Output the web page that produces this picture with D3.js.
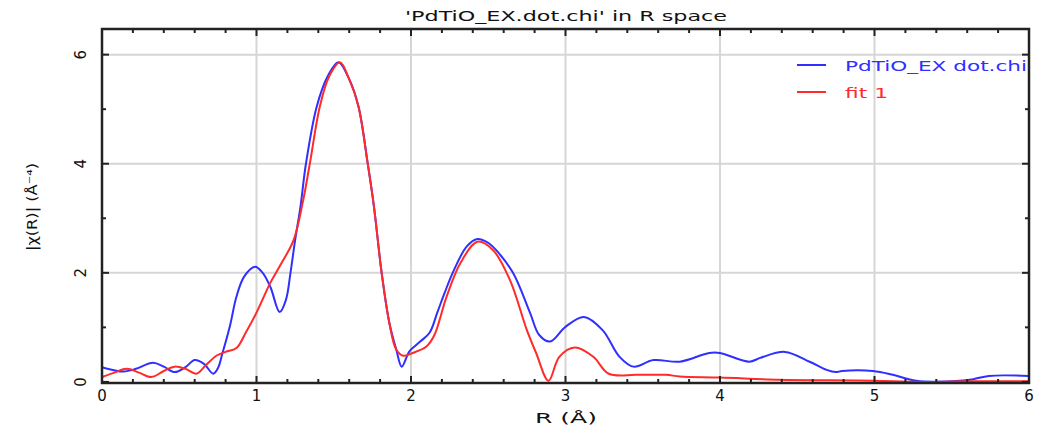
<!DOCTYPE html>
<html>
<head>
<meta charset="utf-8">
<script src="https://cdn.jsdelivr.net/npm/d3@7"></script>
<style>
  body { margin: 0; background: #fff; }
  text { font-family: "DejaVu Sans", sans-serif; fill: #111; }
</style>
</head>
<body>
<svg></svg>
<script>
const width = 1037
const height = 428
let marge = {top: 29, bottom: 45, left: 102, right: 8}

// data |chi(R)|
const dataR   = [0, 0.07, 0.14, 0.22, 0.33, 0.40, 0.47, 0.54, 0.60, 0.66, 0.72, 0.75, 0.78, 0.83, 0.87, 0.92, 0.99, 1.04, 1.09, 1.15, 1.19, 1.22, 1.25, 1.285, 1.32, 1.39, 1.46, 1.53, 1.60, 1.66, 1.72, 1.76, 1.81, 1.86, 1.905, 1.94, 1.99, 2.06, 2.12, 2.17, 2.22, 2.27, 2.36, 2.43, 2.50, 2.55, 2.66, 2.77, 2.83, 2.90, 3.00, 3.12, 3.24, 3.35, 3.44, 3.57, 3.74, 3.93, 4.00, 4.19, 4.26, 4.42, 4.58, 4.69, 4.75, 4.79, 4.99, 5.12, 5.27, 5.55, 5.64, 5.74, 6.00]
const dataChi = [0.27, 0.22, 0.19, 0.24, 0.35, 0.28, 0.18, 0.27, 0.40, 0.33, 0.15, 0.25, 0.53, 1.05, 1.56, 1.93, 2.11, 2.00, 1.74, 1.28, 1.50, 2.00, 2.60, 3.22, 4.00, 5.05, 5.60, 5.86, 5.55, 5.05, 4.00, 3.22, 2.00, 1.08, 0.59, 0.28, 0.56, 0.74, 0.90, 1.27, 1.65, 2.00, 2.48, 2.62, 2.55, 2.42, 2.00, 1.27, 0.86, 0.74, 1.01, 1.19, 0.95, 0.46, 0.28, 0.40, 0.37, 0.53, 0.53, 0.37, 0.44, 0.55, 0.37, 0.22, 0.18, 0.20, 0.20, 0.13, 0.02, 0.02, 0.05, 0.11, 0.11]

// fit 1
const fitR   = [0, 0.08, 0.16, 0.24, 0.32, 0.40, 0.47, 0.54, 0.61, 0.67, 0.74, 0.80, 0.87, 0.93, 1.00, 1.09, 1.15, 1.24, 1.30, 1.345, 1.41, 1.47, 1.54, 1.60, 1.66, 1.72, 1.76, 1.81, 1.86, 1.905, 1.95, 2.01, 2.10, 2.15, 2.23, 2.32, 2.43, 2.53, 2.64, 2.75, 2.81, 2.89, 2.96, 3.06, 3.18, 3.28, 3.46, 3.65, 3.74, 4.00, 4.39, 4.70, 5.00, 5.30, 5.60, 6.00]
const fitChi = [0.09, 0.17, 0.24, 0.17, 0.09, 0.20, 0.28, 0.24, 0.15, 0.30, 0.48, 0.55, 0.62, 0.90, 1.27, 1.82, 2.12, 2.60, 3.30, 4.00, 5.05, 5.60, 5.86, 5.55, 5.05, 4.00, 3.22, 2.00, 1.08, 0.59, 0.48, 0.53, 0.65, 0.85, 1.56, 2.18, 2.57, 2.42, 1.87, 0.95, 0.53, 0.02, 0.46, 0.63, 0.46, 0.15, 0.13, 0.13, 0.10, 0.08, 0.04, 0.03, 0.02, 0.00, 0.01, 0.01]

const xTicks = [0, 1, 2, 3, 4, 5, 6]
const yTicks = [0, 2, 4, 6]
const titleText = "'PdTiO_EX.dot.chi' in R space"
const legendNames = ['PdTiO_EX dot.chi', 'fit 1']
const colors = ['#2f2fff', '#ff2a2a']

const svg = d3.select('svg').attr('width', width).attr('height', height)
const w = width - marge.left - marge.right
const h = height - marge.top - marge.bottom

const x = d3.scaleLinear().domain([0, 6]).range([0, w])
const y = d3.scaleLinear().domain([-0.02, 6.47]).range([h, 0])

let g = svg.append('g').attr('transform', 'translate(' + marge.left + ',' + marge.top + ')')

// 网格线
g.append('g').selectAll('line').data(xTicks.slice(1, -1)).enter().append('line')
  .attr('x1', d => x(d)).attr('x2', d => x(d)).attr('y1', 0).attr('y2', h)
  .attr('stroke', '#d6d6d6').attr('stroke-width', 2)
g.append('g').selectAll('line').data(yTicks.slice(1)).enter().append('line')
  .attr('y1', d => y(d)).attr('y2', d => y(d)).attr('x1', 0).attr('x2', w)
  .attr('stroke', '#d6d6d6').attr('stroke-width', 2)

// 曲线
svg.append('clipPath').attr('id', 'clip').append('rect').attr('width', w).attr('height', h)
const line = d3.line().x(d => x(d[0])).y(d => y(d[1])).curve(d3.curveCatmullRom.alpha(0.5))
const series = [d3.zip(dataR, dataChi), d3.zip(fitR, fitChi)]
g.append('g').attr('clip-path', 'url(#clip)').selectAll('path').data(series).enter().append('path')
  .attr('d', d => line(d)).attr('fill', 'none')
  .attr('stroke', (d, i) => colors[i]).attr('stroke-width', 2)

// 刻度，朝内，上下左右都有
const minorX = d3.range(0, 6.01, 0.2)
const minorY = d3.range(0, 6.5, 1)
let ticks = g.append('g').attr('stroke', '#222').attr('stroke-width', 2)
minorX.forEach(v => {
  let len = Math.abs(v - Math.round(v)) < 1e-6 ? 7 : 4
  ticks.append('line').attr('x1', x(v)).attr('x2', x(v)).attr('y1', h).attr('y2', h - len)
  ticks.append('line').attr('x1', x(v)).attr('x2', x(v)).attr('y1', 0).attr('y2', len)
})
minorY.forEach(v => {
  let len = v % 2 === 0 ? 7 : 4
  ticks.append('line').attr('y1', y(v)).attr('y2', y(v)).attr('x1', 0).attr('x2', len)
  ticks.append('line').attr('y1', y(v)).attr('y2', y(v)).attr('x1', w).attr('x2', w - len)
})

// 边框
g.append('rect').attr('width', w).attr('height', h).attr('fill', 'none')
  .attr('stroke', '#222').attr('stroke-width', 2.5)

// 刻度文字
g.append('g').selectAll('text').data(xTicks).enter().append('text')
  .attr('x', d => x(d)).attr('y', h + 18).attr('text-anchor', 'middle')
  .attr('font-size', 15).text(d => d)
g.append('g').selectAll('text').data(yTicks).enter().append('text')
  .attr('transform', d => 'translate(-16,' + y(d) + ') rotate(-90)')
  .attr('text-anchor', 'middle').attr('font-size', 15).text(d => d)

// 标题和坐标轴名称
svg.append('text').attr('x', 566).attr('y', 21).attr('text-anchor', 'middle')
  .attr('font-size', 14).attr('textLength', 322).attr('lengthAdjust', 'spacingAndGlyphs').text(titleText)
svg.append('text').attr('x', 566).attr('y', 423).attr('text-anchor', 'middle')
  .attr('font-size', 14).attr('textLength', 62).attr('lengthAdjust', 'spacingAndGlyphs').text('R (Å)')
svg.append('text').attr('transform', 'translate(37,207) rotate(-90)').attr('text-anchor', 'middle')
  .attr('font-size', 14).attr('textLength', 88).attr('lengthAdjust', 'spacingAndGlyphs').text('|χ(R)| (Å⁻⁴)')

// 图例
let legend = svg.append('g').selectAll('g').data(legendNames).enter().append('g')
  .attr('transform', (d, i) => 'translate(797,' + (65 + i * 27) + ')')
legend.append('line').attr('x1', 0).attr('x2', 29).attr('stroke', (d, i) => colors[i]).attr('stroke-width', 2)
legend.append('text').attr('x', 48).attr('y', 6).attr('font-size', 14)
  .attr('textLength', (d, i) => i === 0 ? 182 : 43).attr('lengthAdjust', 'spacingAndGlyphs')
  .style('fill', (d, i) => colors[i]).text(d => d)
</script>
</body>
</html>
